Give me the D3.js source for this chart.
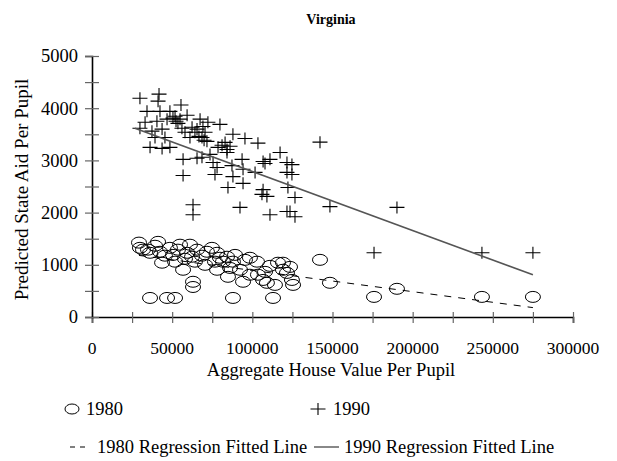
<!DOCTYPE html>
<html>
<head>
<meta charset="utf-8">
<script src="https://cdn.jsdelivr.net/npm/d3@7"></script>
<style>
  body { margin: 0; background: #fff; }
  svg text { font-family: "Liberation Serif", "Times New Roman", serif; fill: #000; }
</style>
</head>
<body>
<div class="chart"></div>
<script>
// 1980 observations: house value per pupil, predicted aid per pupil
var x1980 = [29300, 41200, 31800, 36200, 42400, 48600, 54900, 50500, 59300, 65500,
  71700, 78000, 84200, 56800, 63000, 63000, 78000, 84800, 92300, 94200,
  102900, 103500, 106700, 109100, 116000, 119100, 123500, 124700, 125400, 142200,
  148400, 36200, 46800, 51800, 87900, 112900, 34900, 95400, 87900, 81700,
  175900, 190200, 243200, 275000, 121600, 119100, 39300, 45500, 53600, 61100,
  62400, 68600, 74800, 79800, 89200, 98500, 70500, 76700, 111000, 107900,
  64200, 58000, 29900, 43700, 51800, 86100, 98500, 114100];
var y1980 = [1425, 1440, 1290, 1230, 1250, 1325, 1385, 1190, 1230, 1290,
  1250, 1230, 1155, 905, 675, 575, 905, 770, 905, 675,
  1060, 810, 710, 655, 1040, 905, 960, 710, 615, 1095,
  655, 365, 365, 365, 365, 365, 1290, 1095, 1060, 1060,
  385, 540, 385, 385, 845, 1040, 1365, 1175, 1290, 1385,
  1155, 1175, 1325, 1135, 1190, 1135, 1000, 1060, 980, 865,
  1060, 1115, 1325, 1040, 1060, 940, 810, 615];

// 1990 observations
var x1990 = [29900, 41800, 41200, 34300, 48600, 55500, 59300, 50500, 52400, 46800,
  40500, 33100, 29900, 37400, 43700, 39300, 45500, 36200, 43700, 48600,
  56100, 58000, 65500, 69200, 72300, 67400, 79800, 61100, 64200, 70500,
  68600, 71700, 78600, 84200, 86100, 84200, 87900, 95400, 103500, 93600,
  56800, 65500, 68600, 73600, 75500, 78000, 76700, 56800, 87900, 94200,
  101700, 106700, 111000, 117300, 121600, 84800, 94200, 106700, 106000, 109100,
  63000, 63000, 92300, 111000, 121600, 121600, 124700, 124700, 122200, 126600,
  123500, 126600, 142200, 148400, 190200, 175900, 243200, 275000, 107900, 51800,
  53600, 62400, 66700, 69900, 81100, 83000, 87300, 42400, 54900];
var y1990 = [4190, 4270, 4135, 3940, 3940, 4060, 3865, 3810, 3750, 3790,
  3750, 3730, 3615, 3560, 3600, 3440, 3440, 3250, 3230, 3250,
  3615, 3540, 3600, 3650, 3730, 3790, 3690, 3440, 3540, 3540,
  3440, 3365, 3250, 3210, 3270, 3150, 3500, 3420, 3330, 3020,
  3020, 3040, 3060, 3115, 2960, 2865, 2730, 2710, 2690, 2830,
  2770, 2980, 3020, 3150, 2960, 2480, 2560, 2440, 2350, 2310,
  2150, 1960, 2100, 1960, 2020, 2770, 2920, 2730, 2480, 2290,
  2020, 1920, 3350, 2115, 2100, 1230, 1230, 1230, 2940, 3845,
  3710, 3635, 3460, 3385, 3290, 3345, 2900, 3940, 3790];

// fitted regression lines (end points)
var fit1980x = [29300, 275000], fit1980y = [1180, 180];
var fit1990x = [26800, 275000], fit1990y = [3615, 808];

var xTicks = [0, 50000, 100000, 150000, 200000, 250000, 300000];
var yTicks = [0, 1000, 2000, 3000, 4000, 5000];

var width = 617, height = 461;
var margin = {left: 92, right: 44, top: 56, bottom: 144};

var svg = d3.select(".chart").append("svg")
    .attr("width", width)
    .attr("height", height);

var x = d3.scaleLinear()
    .domain([0, 300000])
    .range([margin.left, width - margin.right]);

var y = d3.scaleLinear()
    .domain([0, 5000])
    .range([height - margin.bottom, margin.top]);

var fontSize = 18.5;

// title
svg.append("text")
    .attr("x", 331)
    .attr("y", 24)
    .attr("text-anchor", "middle")
    .style("font-size", "14px")
    .style("font-weight", "bold")
    .text("Virginia");

// axes
var xAxis = svg.append("g")
    .attr("transform", "translate(0," + y(0) + ")")
    .call(d3.axisBottom(x).tickValues(d3.range(0, 300001, 25000)).tickSize(6).tickFormat(""));
xAxis.select(".domain").attr("stroke", "#000").attr("stroke-width", 1.6);
xAxis.selectAll(".tick line").attr("y1", -5).attr("y2", 6).attr("stroke", "#666").attr("stroke-width", 1.2);

var yAxis = svg.append("g")
    .attr("transform", "translate(" + x(0) + ",0)")
    .call(d3.axisLeft(y).tickValues(d3.range(0, 5001, 500)).tickSize(7).tickFormat(""));
yAxis.select(".domain").attr("stroke", "#000").attr("stroke-width", 1.6);
yAxis.selectAll(".tick line").attr("x1", -7).attr("x2", 7).attr("stroke", "#666").attr("stroke-width", 1.2);

svg.selectAll(".x-label")
    .data(xTicks)
  .enter().append("text")
    .attr("class", "x-label")
    .attr("x", function(d){ return x(d); })
    .attr("y", y(0) + 37)
    .attr("text-anchor", "middle")
    .style("font-size", "17.5px")
    .text(function(d){ return d; });

svg.selectAll(".y-label")
    .data(yTicks)
  .enter().append("text")
    .attr("class", "y-label")
    .attr("x", x(0) - 14)
    .attr("y", function(d){ return y(d); })
    .attr("dy", "0.35em")
    .attr("text-anchor", "end")
    .style("font-size", fontSize + "px")
    .text(function(d){ return d; });

svg.append("text")
    .attr("x", 331)
    .attr("y", 376)
    .attr("text-anchor", "middle")
    .style("font-size", fontSize + "px")
    .text("Aggregate House Value Per Pupil");

svg.append("text")
    .attr("transform", "translate(28," + ((y(0) + y(5000)) / 2 + 3) + ") rotate(-90)")
    .attr("text-anchor", "middle")
    .style("font-size", "19px")
    .text("Predicted State Aid Per Pupil");

// points
var pts1980 = x1980.map(function(d, i){ return {x: d, y: y1980[i]}; });
var pts1990 = x1990.map(function(d, i){ return {x: d, y: y1990[i]}; });

svg.selectAll(".c1980")
    .data(pts1980)
  .enter().append("ellipse")
    .attr("class", "c1980")
    .attr("cx", function(d){ return x(d.x); })
    .attr("cy", function(d){ return y(d.y); })
    .attr("rx", 7.5)
    .attr("ry", 5.5)
    .attr("fill", "none")
    .attr("stroke", "#000")
    .attr("stroke-width", 1);

function plus(sel){
  sel.append("path")
      .attr("d", "M-7.5,0H7.5M0,-6V6")
      .attr("stroke", "#000")
      .attr("stroke-width", 1.1)
      .attr("fill", "none");
}

svg.selectAll(".p1990")
    .data(pts1990)
  .enter().append("g")
    .attr("class", "p1990")
    .attr("transform", function(d){ return "translate(" + x(d.x) + "," + y(d.y) + ")"; })
    .call(plus);

// regression lines
var line = d3.line()
    .x(function(d){ return x(d[0]); })
    .y(function(d){ return y(d[1]); });

svg.append("path")
    .datum(d3.zip(fit1980x, fit1980y))
    .attr("d", line)
    .attr("fill", "none")
    .attr("stroke", "#000")
    .attr("stroke-width", 1)
    .attr("stroke-dasharray", "7,7");

svg.append("path")
    .datum(d3.zip(fit1990x, fit1990y))
    .attr("d", line)
    .attr("fill", "none")
    .attr("stroke", "#555")
    .attr("stroke-width", 1.6);

// legend
var legend = svg.append("g").attr("class", "legend");

legend.append("ellipse")
    .attr("cx", 72).attr("cy", 409)
    .attr("rx", 7).attr("ry", 5)
    .attr("fill", "none").attr("stroke", "#000");
legend.append("text")
    .attr("x", 86).attr("y", 415)
    .style("font-size", fontSize + "px")
    .text("1980");

legend.append("g")
    .attr("transform", "translate(318,409)")
    .call(plus);
legend.append("text")
    .attr("x", 333).attr("y", 415)
    .style("font-size", fontSize + "px")
    .text("1990");

legend.append("line")
    .attr("x1", 70).attr("x2", 89).attr("y1", 447).attr("y2", 447)
    .attr("stroke", "#000").attr("stroke-dasharray", "5,5");
legend.append("text")
    .attr("x", 97).attr("y", 453)
    .style("font-size", fontSize + "px")
    .text("1980 Regression Fitted Line");

legend.append("line")
    .attr("x1", 314).attr("x2", 339).attr("y1", 447).attr("y2", 447)
    .attr("stroke", "#555").attr("stroke-width", 1.4);
legend.append("text")
    .attr("x", 344).attr("y", 453)
    .style("font-size", fontSize + "px")
    .text("1990 Regression Fitted Line");
</script>
</body>
</html>
